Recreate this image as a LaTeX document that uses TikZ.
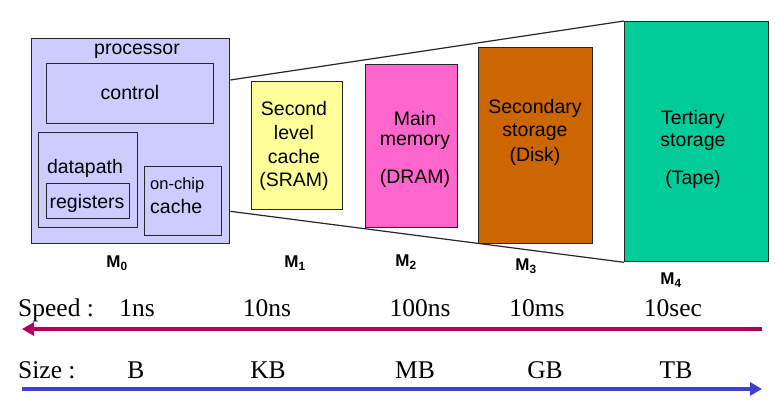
\documentclass[tikz,border=0pt]{standalone}
\usepackage{fontspec}
\setmainfont{Liberation Serif}
\setsansfont{Liberation Sans}
\usetikzlibrary{arrows.meta,calc}
\definecolor{procC}{HTML}{CCCCFF}
\definecolor{sramC}{HTML}{FFFF99}
\definecolor{dramC}{HTML}{FF66CC}
\definecolor{diskC}{HTML}{CC6600}
\definecolor{tapeC}{HTML}{00CC99}
\definecolor{speedC}{HTML}{B0005A}
\definecolor{sizeC}{HTML}{4040CC}
\begin{document}
\begin{tikzpicture}[x=1pt,y=-1pt,
  box/.style={draw=black!85, line width=1.3pt, inner sep=0pt, anchor=north west},
  lbl/.style={font=\sffamily\fontsize{19.5}{22}\selectfont, inner sep=0pt},
  small/.style={font=\sffamily\fontsize{16.5}{20}\selectfont, inner sep=0pt},
  mlab/.style={font=\sffamily\bfseries\fontsize{17}{20}\selectfont, inner sep=0pt},
  rowtxt/.style={font=\rmfamily\fontsize{25.5}{28}\selectfont, inner sep=0pt, anchor=base},
  edge/.style={line width=1.2pt, black!85},
  bar/.style={line width=3.5pt, -{Triangle[length=12pt,width=13pt]}}]
\useasboundingbox (0,0) rectangle (775,407);

% boxes
\node[box, fill=procC, minimum width=198pt, minimum height=205pt] (proc) at (31,38) {};
\node[box, fill=procC, minimum width=167pt, minimum height=60pt] (ctrl) at (46,63) {};
\node[box, fill=procC, minimum width=99pt, minimum height=95pt] (dp) at (38,132) {};
\node[box, fill=procC, minimum width=83pt, minimum height=35pt] (reg) at (46,183) {};
\node[box, fill=procC, minimum width=77pt, minimum height=69pt] (occ) at (144,166) {};
\node[box, fill=sramC, minimum width=91pt, minimum height=128pt] (sram) at (251,81) {};
\node[box, fill=dramC, minimum width=92pt, minimum height=163pt] (dram) at (365,64) {};
\node[box, fill=diskC, minimum width=114pt, minimum height=196pt] (disk) at (478,47) {};
\node[box, fill=tapeC, minimum width=144pt, minimum height=240pt] (tape) at (624,21) {};

% trapezoid
\draw[edge] ($(proc.north east)+(0,42)$) -- (tape.north west);
\draw[edge] ($(proc.south east)+(0,-33)$) -- (tape.south west);

% processor texts
\node[lbl] (tproc) at (137,51) {processor};
\node[lbl] (tctrl) at (130,92.5) {control};
\node[lbl] (tdp) at (85,168.5) {datapath};
\node[lbl] (treg) at (87,203.5) {registers};
\node[small, anchor=west] (toc1) at (150,185.5) {on-chip};
\node[lbl, anchor=west] (toc2) at (150,207) {cache};

% level texts
\node[lbl] (s1) at (294,108.5) {Second};
\node[lbl] (s2) at (294,132.5) {level};
\node[lbl] (s3) at (294,156.5) {cache};
\node[lbl] (s4) at (294,181.5) {(SRAM)};
\node[lbl] (d1) at (415,118.5) {Main};
\node[lbl] (d2) at (415,142.5) {memory};
\node[lbl] (d3) at (415,178.5) {(DRAM)};
\node[lbl] (k1) at (535,108.5) {Secondary};
\node[lbl] (k2) at (535,132.5) {storage};
\node[lbl] (k3) at (535,156.5) {(Disk)};
\node[lbl] (t1) at (693,119) {Tertiary};
\node[lbl] (t2) at (693,142) {storage};
\node[lbl] (t3) at (693,179) {(Tape)};

% M labels
\node[mlab] (m0) at (117,263) {M\textsubscript{0}};
\node[mlab] (m1) at (295,263) {M\textsubscript{1}};
\node[mlab] (m2) at (406,262) {M\textsubscript{2}};
\node[mlab] (m3) at (526,266) {M\textsubscript{3}};
\node[mlab] (m4) at (671,280) {M\textsubscript{4}};

% speed row
\node[rowtxt, anchor=base west] (sp) at (18,316) {Speed :};
\node[rowtxt] (v1) at (137,316) {1ns};
\node[rowtxt] (v2) at (267,316) {10ns};
\node[rowtxt] (v3) at (420,316) {100ns};
\node[rowtxt] (v4) at (537,316) {10ms};
\node[rowtxt] (v5) at (673,316) {10sec};
\coordinate (spR) at (762,329);
\coordinate (spL) at (22,329);
\draw[bar, speedC] (spR) -- (spL);

% size row
\node[rowtxt, anchor=base west] (sz) at (18,378) {Size :};
\node[rowtxt] (z1) at (136,378) {B};
\node[rowtxt] (z2) at (268,378) {KB};
\node[rowtxt] (z3) at (415,378) {MB};
\node[rowtxt] (z4) at (545,378) {GB};
\node[rowtxt] (z5) at (676,378) {TB};
\coordinate (szL) at (22,389);
\coordinate (szR) at (762,389);
\draw[bar, sizeC] (szL) -- (szR);
\end{tikzpicture}
\end{document}
